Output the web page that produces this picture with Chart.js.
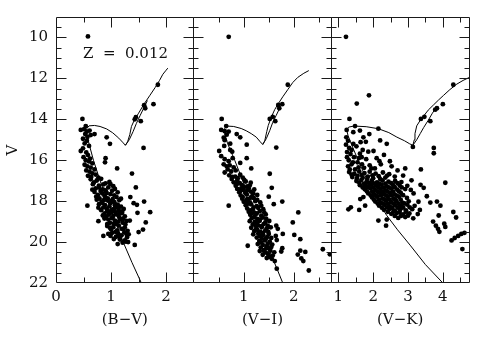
<!DOCTYPE html>
<html><head><meta charset="utf-8">
<script src="https://cdn.jsdelivr.net/npm/chart.js@4/dist/chart.umd.min.js"></script>
<style>html,body{margin:0;padding:0;background:#fff;}#wrap{width:491px;height:340px;position:relative;}</style>
</head><body><div id="wrap"><canvas id="c" width="491" height="340"></canvas></div>
<script>
// ---- axis ticks ----
const vTickLabels = [10,12,14,16,18,20,22];
const vMajor = [10,12,14,16,18,20];
const vMinor = [9.5,10.5,11,11.5,12.5,13,13.5,14.5,15,15.5,16.5,17,17.5,18.5,19,19.5,20.5,21,21.5];
const bvLabels = [0,1,2], bvMajor = [1,2], bvMinor = [0.5,1.5];
const viLabels = [1,2],  viMajor = [1,2], viMinor = [0.5,1.5,2.5];
const vkLabels = [1,2,3,4], vkMajor = [1,2,3,4], vkMinor = [1.5,2.5,3.5,4.5];
const metallicity = 'Z  =  0.012';

// ---- isochrones [colour, V] ----
const bvIso = [[1.55,22],[1.38,21],[1.22,20],[1.08,19],[0.94,18],[0.80,17],[0.68,16],[0.60,15.2],[0.56,14.7],[0.56,14.45],[0.60,14.32],[0.70,14.3],[0.80,14.35],[0.92,14.47],[1.03,14.66],[1.14,14.92],[1.22,15.15],[1.26,15.27],[1.30,15.1],[1.34,14.75],[1.37,14.35],[1.42,14.05],[1.50,13.7],[1.60,13.25],[1.70,12.85],[1.80,12.45],[1.88,12.1],[1.94,11.8],[2.00,11.6],[2.03,11.5]];
const bvIso2 = [[1.26,15.27],[1.33,15.0],[1.40,14.6],[1.46,14.2],[1.53,13.8],[1.60,13.42],[1.66,13.08]];
const viIso = [[1.78,22],[1.68,21.4],[1.52,20.45],[1.40,19.7],[1.28,19],[1.15,18],[0.98,17],[0.82,16],[0.68,15.2],[0.62,14.7],[0.62,14.45],[0.66,14.33],[0.80,14.35],[0.95,14.45],[1.05,14.56],[1.15,14.7],[1.25,14.87],[1.33,15.1],[1.38,15.23],[1.42,15.05],[1.46,14.6],[1.49,14.3],[1.55,13.9],[1.62,13.52],[1.70,13.2],[1.78,12.9],[1.88,12.55],[1.98,12.2],[2.08,11.95],[2.20,11.75],[2.30,11.62]];
const viIso2 = [[1.38,15.23],[1.45,14.95],[1.52,14.55],[1.58,14.15],[1.65,13.8],[1.72,13.45]];
const vkIso = [[4.0,22],[3.5,21.1],[3.06,20.15],[2.70,19.4],[2.39,18.7],[2.10,17.9],[1.86,17.1],[1.62,16.2],[1.42,15.4],[1.28,14.8],[1.24,14.5],[1.30,14.38],[1.45,14.33],[1.80,14.36],[2.15,14.46],[2.45,14.65],[2.68,14.87],[2.90,15.05],[3.05,15.2],[3.14,15.27],[3.18,15.0],[3.20,14.7],[3.25,14.32],[3.35,14.05],[3.44,13.86],[3.58,13.55],[3.73,13.3],[3.88,13.05],[4.02,12.83],[4.20,12.55],[4.40,12.28],[4.58,12.1],[4.75,11.96]];
const vkIso2 = [[3.14,15.27],[3.25,15.0],[3.35,14.7],[3.45,14.4],[3.58,14.05],[3.70,13.7],[3.80,13.45]];

// ---- stars [colour, V] ----
const bvStars = [
[0.58,9.95],[1.85,12.31],[1.77,13.26],[1.60,13.31],[1.62,13.46],[1.45,13.90],[1.43,14.0],[1.54,14.09],
[0.48,13.98],[0.54,14.33],[0.45,14.52],[0.51,14.48],[0.56,14.6],[0.61,14.55],[0.53,14.72],[0.63,14.77],[0.70,14.72],[0.57,14.86],[0.92,14.88],[0.49,14.95],[0.56,15.05],[0.98,15.2],[0.52,15.18],[0.60,15.3],[0.49,15.42],[1.59,15.4],[0.45,15.55],[0.55,15.62],[0.58,15.75],[0.50,15.85],[0.62,15.92],[0.90,15.9],[0.54,16.0],[0.60,16.06],[0.89,16.1],[0.66,16.15],[0.52,16.22],[0.57,16.3],[0.63,16.36],[1.11,16.4],[0.70,16.45],[0.55,16.5],[0.61,16.56],[1.38,16.65],[0.66,16.64],[0.72,16.7],[0.58,16.76],[0.64,16.82],[0.77,16.85],
[1.45,17.33],[1.35,17.8],[1.60,18.02],[1.41,18.1],[0.57,18.22],[1.47,18.18],[1.71,18.54],[1.48,18.57],[0.77,18.98],[1.34,18.95],[1.63,19.04],[1.58,19.39],[1.50,19.51],[0.86,19.7],[1.43,20.14],
[0.63,16.93],[0.74,16.99],[0.82,16.91],[0.97,17.06],
[0.67,17.17],[0.78,17.24],[0.90,17.13],[1.04,17.27],
[0.72,17.38],[0.85,17.42],[0.95,17.33],
[0.70,17.55],[0.81,17.5],[0.92,17.6],[1.02,17.49],[1.12,17.57],
[0.76,17.7],[0.88,17.74],[0.99,17.66],
[0.79,17.87],[0.90,17.82],[1.03,17.9],[1.10,17.8],
[0.83,18.02],[0.94,17.97],[1.06,18.05],[1.15,17.95],
[0.78,18.15],[0.89,18.19],[0.99,18.1],[1.12,18.17],
[0.86,18.3],[0.97,18.26],[1.07,18.34],[1.18,18.27],
[0.82,18.44],[0.93,18.48],[1.03,18.4],[1.14,18.46],[1.23,18.38],
[0.88,18.6],[1.00,18.56],[1.10,18.64],[1.20,18.58],
[0.91,18.75],[1.04,18.72],[1.15,18.8],[1.25,18.74],
[0.95,18.9],[1.07,18.95],[1.17,18.88],[1.28,18.97],
[0.98,19.06],[1.09,19.12],[1.21,19.05],
[0.93,19.22],[1.04,19.27],[1.14,19.2],[1.25,19.29],
[1.00,19.38],[1.11,19.43],[1.22,19.36],[1.30,19.45],
[1.02,19.55],[1.13,19.6],[1.24,19.53],
[0.99,19.7],[1.09,19.74],[1.19,19.67],[1.29,19.76],
[1.16,19.88],[1.25,19.92],[1.21,20.03],[1.31,20.0],
[0.69,17.08],[0.86,17.18],[0.99,17.17],[0.78,17.33],[0.90,17.47],[1.07,17.4],[0.66,17.44],[0.84,17.62],[1.06,17.72],[0.94,17.86],[0.74,17.93],[1.18,17.88],[1.00,18.0],[0.84,18.08],[1.07,18.2],[0.92,18.37],[1.13,18.32],[0.77,18.32],[0.98,18.5],[1.20,18.5],[0.85,18.7],[1.07,18.52],[0.96,18.66],[1.13,18.68],[1.22,18.86],[1.01,18.83],[0.88,18.85],[1.13,19.0],[1.26,19.14],[1.05,19.1],[0.98,19.3],[1.19,19.35],[1.08,19.5],[1.28,19.6],[0.95,19.6],[1.16,19.78],[1.05,19.85],[1.27,19.98],[1.12,20.1],[1.32,19.62],[0.73,17.78],[0.87,17.95],[1.16,18.6],[0.93,19.12]
];
const viStars = [
[0.70,9.97],[1.88,12.31],[1.77,13.26],[1.69,13.3],[1.71,13.46],[1.52,13.98],[1.58,13.88],[1.63,14.09],
[0.56,13.98],[0.65,14.33],[0.55,14.52],[0.62,14.58],[0.70,14.6],[0.66,14.75],[0.86,14.72],[0.93,14.88],[0.60,14.9],[1.06,15.24],[0.73,15.19],[0.62,15.02],[0.61,15.3],[0.51,15.55],[0.73,15.5],[0.77,15.58],[1.65,15.38],[1.06,15.9],[0.55,15.8],[0.62,15.95],[0.70,16.05],[0.78,15.9],[0.93,16.13],[1.15,16.4],[1.52,16.66],[0.60,16.2],[0.66,16.3],[0.72,16.25],[0.80,16.35],[0.68,16.45],[0.75,16.55],[0.84,16.5],[0.62,16.6],
[1.56,17.35],[0.70,18.22],[1.50,17.78],[1.60,18.15],[1.77,18.02],[2.09,18.55],[1.98,19.04],[1.65,19.2],[1.68,19.35],[1.78,19.6],[2.01,19.65],[2.13,19.86],[1.64,19.7],[1.66,19.9],[1.08,20.18],[1.77,20.3],[1.75,20.46],[2.13,20.42],[2.23,20.48],[2.08,20.61],[2.15,20.8],[2.19,20.93],[2.30,21.39],[2.58,20.35],[2.72,20.6],[1.62,20.93],[1.66,21.3],
[0.71,16.74],[0.83,16.8],[0.93,16.71],
[0.76,16.92],[0.88,16.88],[1.01,16.96],
[0.80,17.08],[0.92,17.12],[1.04,17.04],[1.14,17.1],
[0.84,17.25],[0.96,17.2],[1.07,17.28],
[0.87,17.4],[0.99,17.45],[1.10,17.37],[1.21,17.43],
[0.91,17.57],[1.03,17.6],[1.14,17.53],
[0.94,17.72],[1.06,17.68],[1.17,17.76],[1.27,17.7],
[0.97,17.88],[1.09,17.92],[1.20,17.85],
[1.00,18.03],[1.12,18.07],[1.23,18.0],[1.33,18.06],
[1.04,18.2],[1.15,18.16],[1.26,18.24],
[1.07,18.36],[1.18,18.4],[1.29,18.33],[1.39,18.39],
[1.10,18.52],[1.21,18.56],[1.32,18.49],
[1.13,18.67],[1.24,18.63],[1.35,18.71],[1.44,18.65],
[1.16,18.83],[1.27,18.87],[1.38,18.8],
[1.12,18.98],[1.22,19.02],[1.32,18.96],[1.43,19.04],[1.51,18.97],
[1.18,19.14],[1.29,19.18],[1.40,19.12],
[1.15,19.3],[1.25,19.34],[1.36,19.27],[1.46,19.33],[1.54,19.28],
[1.21,19.46],[1.32,19.5],[1.43,19.44],
[1.19,19.62],[1.29,19.58],[1.39,19.65],[1.50,19.6],
[1.26,19.78],[1.36,19.82],[1.47,19.75],[1.55,19.8],
[1.31,19.95],[1.42,19.92],[1.52,19.98],
[1.28,20.1],[1.38,20.14],[1.48,20.08],[1.57,20.12],
[1.34,20.27],[1.45,20.3],[1.55,20.24],
[1.32,20.44],[1.42,20.48],[1.53,20.42],[1.61,20.5],
[1.38,20.62],[1.49,20.6],[1.58,20.66],
[1.46,20.78],[1.56,20.82],
[0.77,16.82],[0.87,16.99],[0.98,16.85],[0.86,17.17],[1.00,17.32],[1.12,17.24],[0.93,17.51],[1.07,17.47],[1.19,17.62],[0.98,17.8],[1.14,17.83],[1.05,17.98],[1.27,17.94],[1.10,18.12],[1.20,18.3],[1.35,18.22],[1.13,18.45],[1.26,18.6],[1.16,18.6],[1.41,18.55],[1.21,18.78],[1.32,18.9],[1.45,18.87],[1.26,19.07],[1.36,19.22],[1.48,19.2],[1.27,19.4],[1.38,19.55],[1.49,19.5],[1.32,19.7],[1.44,19.85],[1.35,20.02],[1.46,20.2],[1.52,20.35],[1.40,20.4],[1.47,20.55],[1.52,20.72],[1.24,19.2],[1.07,17.9],[0.95,17.38]
];
const vkStars = [
[1.22,9.97],[1.88,12.83],[1.53,13.23],[4.30,12.31],[4.0,13.26],[3.83,13.46],[3.78,13.53],[3.64,14.09],[3.37,13.98],[3.47,13.88],[1.32,13.98],[1.48,14.33],[1.24,14.52],[1.62,14.55],[1.43,14.63],[2.15,14.46],[1.89,14.72],[1.72,14.88],[1.23,14.88],[1.43,15.2],[2.20,15.03],[2.39,15.2],[1.79,15.1],[1.64,15.12],[1.22,15.24],[1.31,15.4],[1.70,15.5],[1.86,15.58],[2.01,15.55],[2.31,15.74],[3.14,15.35],[3.74,15.4],[3.74,15.66],[1.35,15.7],[1.45,15.85],[1.30,16.0],[1.67,15.85],[1.59,15.9],[2.10,15.9],[2.18,16.05],[2.22,16.2],[2.48,16.05],[2.53,16.3],[2.70,16.5],[2.92,16.4],[3.37,16.45],[1.74,16.37],[1.48,16.45],[1.25,15.6],[1.38,16.2],[1.55,16.1],[1.28,16.3],[1.90,16.25],[2.05,16.4],
[1.28,15.05],[1.52,15.32],[1.38,15.5],[1.62,15.68],[1.25,15.85],[1.80,15.95],[1.42,16.1],[1.68,16.2],[1.33,16.45],[1.95,16.4],[1.58,16.35],
[4.07,17.1],[3.36,17.2],[3.45,17.35],[2.98,17.25],[3.08,17.45],[3.54,17.76],[3.64,18.07],[3.83,18.02],[3.93,18.22],[1.29,18.4],[1.36,18.3],[1.60,18.43],[1.77,18.22],[1.63,17.9],[1.72,17.8],[2.15,18.95],[2.39,18.9],[2.37,19.2],[3.88,18.7],[4.04,19.1],[4.07,19.26],[3.72,19.0],[3.80,19.2],[3.86,19.35],[3.90,19.5],[4.30,18.53],[4.38,18.8],[4.25,19.92],[4.34,19.8],[4.44,19.7],[4.53,19.6],[4.62,19.55],[4.56,20.34],
[1.31,16.58],[1.46,16.66],[1.60,16.55],[1.75,16.63],[1.90,16.56],[2.07,16.65],[2.28,16.6],[2.46,16.68],
[1.40,16.82],[1.55,16.77],[1.70,16.86],[1.85,16.8],[2.00,16.88],[2.16,16.78],[2.35,16.85],[2.62,16.8],[2.86,16.75],
[1.52,17.02],[1.66,16.97],[1.81,17.06],[1.96,17.0],[2.11,17.08],[2.27,16.99],[2.44,17.05],[2.63,17.01],[2.81,17.07],[3.10,16.98],
[1.62,17.22],[1.78,17.26],[1.94,17.18],[2.09,17.25],[2.24,17.2],[2.40,17.28],[2.57,17.21],[2.76,17.24],
[1.76,17.42],[1.92,17.38],[2.06,17.46],[2.21,17.4],[2.36,17.47],[2.52,17.39],[2.69,17.44],[2.92,17.41],
[1.86,17.62],[2.02,17.66],[2.16,17.58],[2.31,17.64],[2.47,17.6],[2.62,17.67],[2.79,17.59],[3.16,17.62],
[1.97,17.82],[2.12,17.78],[2.27,17.86],[2.42,17.8],[2.58,17.87],[2.74,17.79],[2.97,17.84],
[2.06,18.02],[2.22,18.06],[2.37,17.98],[2.52,18.05],[2.67,18.0],[2.84,18.07],[3.02,18.01],[3.30,18.03],
[2.17,18.22],[2.33,18.18],[2.48,18.26],[2.63,18.2],[2.80,18.25],[2.98,18.17],[3.19,18.23],
[2.31,18.42],[2.47,18.38],[2.62,18.46],[2.78,18.4],[2.94,18.45],[3.12,18.39],[3.34,18.43],
[2.52,18.62],[2.68,18.58],[2.86,18.65],[3.04,18.6],[3.28,18.63],
[2.72,18.82],[2.92,18.78],[3.15,18.84],
[1.38,16.7],[1.53,16.9],[1.67,16.72],[1.83,16.92],[1.98,16.74],[2.20,16.92],[2.40,16.75],[1.60,17.1],[1.74,17.15],[1.88,17.12],[2.02,17.13],[2.18,17.14],[2.35,17.15],[2.52,17.12],[2.70,17.12],[1.70,17.33],[1.85,17.32],[2.00,17.33],[2.15,17.32],[2.30,17.34],[2.45,17.33],[2.62,17.32],[2.82,17.33],[1.82,17.52],[1.97,17.53],[2.12,17.52],[2.26,17.53],[2.41,17.52],[2.57,17.53],[2.74,17.52],[1.93,17.72],[2.08,17.72],[2.22,17.71],[2.37,17.72],[2.52,17.71],[2.68,17.73],[2.86,17.71],[2.02,17.92],[2.17,17.93],[2.32,17.92],[2.47,17.93],[2.63,17.92],[2.79,17.93],[2.13,18.12],[2.28,18.12],[2.43,18.13],[2.58,18.12],[2.73,18.13],[2.90,18.11],[2.25,18.32],[2.40,18.31],[2.55,18.33],[2.70,18.32],[2.86,18.31],[3.05,18.30],[2.42,18.52],[2.58,18.52],[2.76,18.53],[2.94,18.52],[2.62,18.72],[2.80,18.72],[3.00,18.71]
];

const FONT = {family:'DejaVu Serif', size:15};
const INK = '#111';

function xScale(min, max, labels, title){
  return {
    type:'linear', position:'bottom', stack:'panels', stackWeight:1, min, max,
    afterBuildTicks: s => { s.ticks = labels.map(v => ({value:v})); },
    afterFit: s => { s.height = 57; },
    grid:{display:false, drawTicks:false}, border:{display:false},
    ticks:{font:FONT, color:INK, padding:5, autoSkip:false, maxRotation:0},
    title:{display:true, text:title, font:FONT, color:INK, padding:{top:0,bottom:11}}
  };
}

const framePlugin = {
  id:'frame',
  afterDatasetsDraw(chart){
    const ctx = chart.ctx, y = chart.scales.y;
    const panels = [
      [chart.scales.xBV, bvMajor, bvMinor],
      [chart.scales.xVI, viMajor, viMinor],
      [chart.scales.xVK, vkMajor, vkMinor]
    ];
    const top = Math.floor(y.top)+0.5, bot = Math.round(y.bottom)-0.5;
    ctx.save();
    ctx.strokeStyle = '#1a1a1a'; ctx.lineWidth = 1;
    panels.forEach(([s, maj, mnr]) => {
      const L = Math.floor(s.left)+0.5, R = Math.floor(s.right)+0.5;
      ctx.beginPath();
      ctx.moveTo(L, top); ctx.lineTo(R, top); ctx.lineTo(R, bot); ctx.lineTo(L, bot); ctx.closePath();
      const yt = (v, len) => { const p = Math.round(y.getPixelForValue(v))+0.5; ctx.moveTo(L, p); ctx.lineTo(L+len, p); ctx.moveTo(R, p); ctx.lineTo(R-len, p); };
      vMajor.forEach(v => yt(v, 10)); vMinor.forEach(v => yt(v, 5));
      const xt = (v, len) => { const p = Math.round(s.getPixelForValue(v))+0.5; ctx.moveTo(p, bot); ctx.lineTo(p, bot-len); ctx.moveTo(p, top); ctx.lineTo(p, top+len); };
      maj.forEach(v => xt(v, 10)); mnr.forEach(v => xt(v, 5));
      ctx.stroke();
    });
    const xb = chart.scales.xBV;
    ctx.fillStyle = INK; ctx.font = '15px "DejaVu Serif"'; ctx.textBaseline = 'middle'; ctx.textAlign = 'left';
    ctx.fillText(metallicity, xb.getPixelForValue(0.49), y.getPixelForValue(10.8));
    ctx.restore();
  }
};

const pts = (data, xID) => ({type:'scatter', data:data.map(([x,v])=>({x,y:v})), xAxisID:xID, yAxisID:'y', pointRadius:2.4, pointBackgroundColor:'#000', pointBorderWidth:0, showLine:false});
const line = (data, xID) => ({type:'scatter', data:data.map(([x,v])=>({x,y:v})), xAxisID:xID, yAxisID:'y', pointRadius:0, borderColor:'#000', borderWidth:1, showLine:true, tension:0});

new Chart(document.getElementById('c'), {
  type:'scatter',
  data:{datasets:[
    line(bvIso,'xBV'), line(bvIso2,'xBV'), pts(bvStars,'xBV'),
    line(viIso,'xVI'), line(viIso2,'xVI'), pts(viStars,'xVI'),
    line(vkIso,'xVK'), line(vkIso2,'xVK'), pts(vkStars,'xVK')
  ]},
  options:{
    responsive:false, animation:false, devicePixelRatio:1,
    layout:{padding:{left:0,right:22,top:7,bottom:0}},
    plugins:{legend:{display:false}, tooltip:{enabled:false}},
    scales:{
      y:{type:'linear', position:'left', reverse:true, min:9, max:22,
         afterBuildTicks: s => { s.ticks = vTickLabels.map(v => ({value:v})); },
         afterFit: s => { s.width = 56; },
         grid:{display:false, drawTicks:false}, border:{display:false},
         ticks:{font:FONT, color:INK, padding:8},
         title:{display:true, text:'V', font:FONT, color:INK, padding:{top:4,bottom:0}}},
      xBV: xScale(0, 2.5, bvLabels, '(B\u2212V)'),
      xVI: xScale(0, 2.75, viLabels, '(V\u2212I)'),
      xVK: xScale(0.8, 4.75, vkLabels, '(V\u2212K)')
    }
  },
  plugins:[framePlugin]
});
</script></body></html>
